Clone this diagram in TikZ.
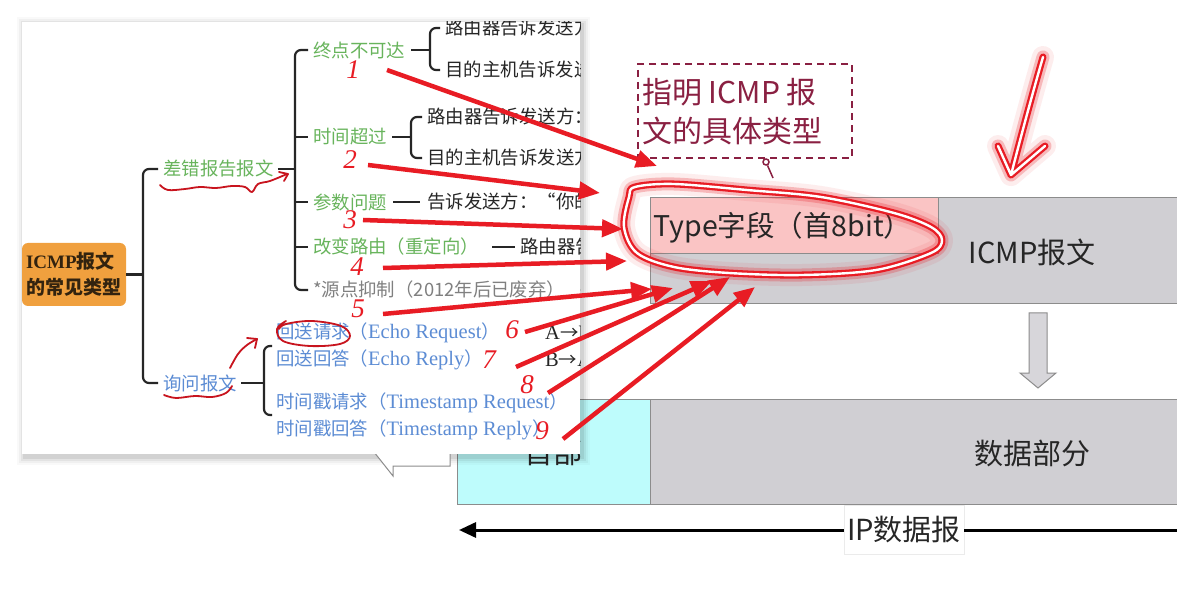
\documentclass[tikz,border=0pt]{standalone}
\usepackage{fontspec}
\setmainfont{Noto Sans CJK SC}
\newfontfamily\lser{Liberation Serif}
\usetikzlibrary{arrows.meta}
\definecolor{mmgreen}{RGB}{104,180,92}
\definecolor{mmblue}{RGB}{92,140,212}
\definecolor{mmgray}{RGB}{128,128,128}
\definecolor{mmblack}{RGB}{38,38,38}
\definecolor{mmorange}{RGB}{240,160,62}
\definecolor{rootink}{RGB}{50,35,15}
\definecolor{annred}{RGB}{232,28,36}
\definecolor{scribred}{RGB}{200,20,30}
\definecolor{hintred}{RGB}{138,32,66}
\definecolor{boxgray}{RGB}{208,207,211}
\definecolor{edgegray}{RGB}{140,140,140}
\definecolor{pinkfill}{RGB}{250,196,196}
\definecolor{cyanfill}{RGB}{190,252,252}
\begin{document}
\begin{tikzpicture}[x=1pt,y=-1pt,
  box/.style={draw=edgegray,line width=1pt,anchor=north west,inner sep=0pt},
  big/.style={inner sep=0pt,text=black!85,font=\fontsize{29}{34}\selectfont},
  tree/.style={draw=mmblack,line width=2.2pt,rounded corners=6pt},
  mm/.style={anchor=west,inner sep=0pt,font=\fontsize{18.4}{21}\selectfont},
  gtxt/.style={mm,text=mmgreen},
  btxt/.style={mm,text=mmblue},
  ktxt/.style={mm,text=mmblack},
  redarr/.style={draw=annred,line width=4.5pt,-{Triangle[length=21pt,width=17pt]}},
  num/.style={text=annred,inner sep=0pt,font=\lser\itshape\fontsize{27}{27}\selectfont},
  scrib/.style={draw=scribred,line width=1.8pt,line cap=round,line join=round},
  glow/.style={draw=annred,line width=7pt,line cap=round,line join=round,
     preaction={draw=annred,opacity=.08,line width=22pt,line cap=round,line join=round},
     preaction={draw=annred,opacity=.25,line width=13pt,line cap=round,line join=round},
     postaction={draw=white,line width=2.4pt,line cap=round,line join=round}}
]
\useasboundingbox (0,0) rectangle (1177,601);
\fill[white] (0,0) rectangle (1177,601);
\begin{scope}
\clip (0,0) rectangle (1177,601);
% ---------- IP datagram diagram ----------
\node[box,fill=boxgray,minimum width=540pt,minimum height=106pt] (icmp) at (650,197) {};
\node[box,fill=pinkfill,minimum width=288pt,minimum height=56pt] (type) at (650,197) {};
\node[big,font=\fontsize{28.5}{30}\selectfont] (typelab) at (783,228) {Type字段（首8bit）};
\node[big] (icmplab) at (1032,252) {ICMP报文};
\node[box,fill=cyanfill,minimum width=193pt,minimum height=105pt] (hdr) at (457,399) {};
\node[box,fill=boxgray,minimum width=540pt,minimum height=105pt] (data) at (650,399) {};
\node[big] (hdrlab) at (553,452) {首部};
\node[big] (datalab) at (1032,453) {数据部分};
\draw[fill=boxgray!85,draw=edgegray,line width=1pt]
  (1029,313) -- (1047,313) -- (1047,373) -- (1056,373) -- (1038,388) -- (1020,373) -- (1029,373) -- cycle;
\coordinate (ipL) at (459,530);
\coordinate (ipR) at (1185,530);
\node[big,fill=white,draw=black!8,inner xsep=3pt,minimum height=49pt] (iplab) at (904,530) {IP数据报};
\draw[line width=3pt,-{Triangle[length=17pt,width=15pt]}] (iplab.west) -- (ipL);
\draw[line width=3pt] (iplab.east) -- (ipR);
% ---------- hint box ----------
\node[box,draw=hintred,line width=2pt,dash pattern=on 7pt off 5pt,minimum width=214pt,minimum height=94pt] (hint) at (637,63) {};
\node[anchor=west,inner sep=0pt,align=left,text=hintred,font=\fontsize{30}{39}\selectfont] (hintlab) at (642,112) {指明 ICMP 报\\文的具体类型};
\node[draw=hintred,line width=1.5pt,circle,inner sep=0pt,minimum size=6pt] (pin) at (766,162) {};
\coordinate (pinend) at (773,178);
\draw[hintred,line width=1.5pt] (pin) -- (pinend);
% ---------- glowing hand annotations ----------
\draw[glow] plot[smooth cycle,tension=.55] coordinates {(635,187) (674,184) (747,190) (821,197) (894,213) (931,227) (942,240) (931,253) (876,270) (802,275) (729,273) (674,267) (637,253) (624,227) (629,197)};
\draw[glow] (1043,57) .. controls (1032,95) and (1020,140) .. (1011,175) (998,146) -- (1011,175) -- (1045,146);
% ---------- mind-map panel ----------
\foreach \s/\o in {8/.025,6/.035,4/.05,2/.07}{
  \fill[black,opacity=\o] (22-\s+3,22-\s+3) rectangle (580+\s+2,454+\s+3);
}
\draw[fill=white,draw=black!45,line width=1pt] (374,452) -- (393,476) -- (393,466) -- (450,466) -- (450,452);
\node[anchor=north west,fill=white,inner sep=0pt,minimum width=558pt,minimum height=432pt] (panel) at (22,22) {};
\begin{scope}
\clip (22,22) rectangle (580,454);
\node[fill=mmorange,rounded corners=6pt,minimum width=104pt,minimum height=63pt,text width=96pt,inner xsep=4pt,align=left,text=rootink,font=\bfseries\fontsize{19}{26}\selectfont] (root) at (74,274.5) {{\lser\bfseries ICMP}报文\\的常见类型};
\node[gtxt] (err) at (163,169) {差错报告报文};
\node[btxt] (qry) at (163,383) {询问报文};
\draw[tree] (root.east) -- (143,274.5);
\draw[tree] ([xshift=-5pt]err.west) -- (143,169) -- (143,383) -- ([xshift=-5pt]qry.west);
% error branch
\node[gtxt] (n1) at (313,50) {终点不可达};
\node[gtxt] (n2) at (313,137) {时间超过};
\node[gtxt] (n3) at (313,202) {参数问题};
\node[gtxt] (n4) at (313,247) {改变路由（重定向）};
\node[mm,text=mmgray] (n5) at (313,290) {*源点抑制（2012年后已废弃）};
\draw[tree] ([xshift=4pt]err.east) -- (295,169);
\draw[tree] ([xshift=-5pt]n1.west) -- (295,50) -- (295,290) -- ([xshift=-5pt]n5.west);
\draw[tree] (295,137) -- ([xshift=-5pt]n2.west);
\draw[tree] (295,202) -- ([xshift=-5pt]n3.west);
\draw[tree] (295,247) -- ([xshift=-5pt]n4.west);
\node[ktxt] (c11) at (445,28) {路由器告诉发送方};
\node[ktxt] (c12) at (445,70) {目的主机告诉发送方};
\draw[tree] ([xshift=6pt]n1.east) -- (430,50);
\draw[tree] ([xshift=-5pt]c11.west) -- (430,28) -- (430,70) -- ([xshift=-5pt]c12.west);
\node[ktxt] (c21) at (427,117) {路由器告诉发送方：};
\node[ktxt] (c22) at (427,158) {目的主机告诉发送方};
\draw[tree] ([xshift=5pt]n2.east) -- (411,137);
\draw[tree] ([xshift=-5pt]c21.west) -- (411,117) -- (411,158) -- ([xshift=-5pt]c22.west);
\node[ktxt] (c3) at (427,202) {告诉发送方：“你的};
\draw[tree] ([xshift=6pt]n3.east) -- ([xshift=-7pt]c3.west);
\node[ktxt] (c4) at (520,247) {路由器告诉};
\draw[tree] ([xshift=13pt]n4.east) -- ([xshift=-5pt]c4.west);
\coordinate (c5) at (595,290);
\draw[tree] ([xshift=15pt]n5.east) -- (c5);
% query branch
\node[btxt] (q1) at (276,333) {回送请求（{\lser\fontsize{20.5}{21}\selectfont Echo Request}）};
\node[btxt] (q2) at (276,360) {回送回答（{\lser\fontsize{20.5}{21}\selectfont Echo Reply}）};
\node[btxt] (q3) at (276,403) {时间戳请求（{\lser\fontsize{20.5}{21}\selectfont Timestamp Request}）};
\node[btxt] (q4) at (276,430) {时间戳回答（{\lser\fontsize{20.5}{21}\selectfont Timestamp Reply}）};
\node[ktxt] (ab) at (545,333) {{\lser\fontsize{20.5}{21}\selectfont A}→{\lser\fontsize{20.5}{21}\selectfont B}};
\node[ktxt] (ba) at (545,360) {{\lser\fontsize{20.5}{21}\selectfont B}→{\lser\fontsize{20.5}{21}\selectfont A}};
\coordinate (qtop) at (272,346);
\coordinate (qbot) at (272,415);
\draw[tree] ([xshift=4pt]qry.east) -- (264,383);
\draw[tree] (qtop) -- (264,346) -- (264,415) -- (qbot);
\end{scope}
% ---------- red hand annotations ----------
\draw[scrib] plot[smooth,tension=.6] coordinates {(160,185) (168,190) (185,189) (200,187) (216,188) (232,186) (245,187) (252,192) (258,184) (270,181) (287,174)};
\draw[scrib] (279,172) -- (288,174) -- (284,181);
\draw[scrib] plot[smooth,tension=.6] coordinates {(164,395) (176,398) (195,396) (212,397) (226,393) (232,386)};
\draw[scrib] plot[smooth,tension=.6] coordinates {(230,368) (238,354) (247,345) (257,339)};
\draw[scrib] (247,338) -- (257,339) -- (255,348);
\draw[scrib] plot[smooth,tension=.6] coordinates {(286,321) (277,329) (283,341) (310,346) (340,344) (350,336) (341,326) (312,321) (286,324) (279,329)};
\foreach \n/\px/\py in {1/353/70,2/350/160,3/350/220,4/357/267,5/358/309,6/512/330,7/489/360,8/527/385,9/542/431}{
  \node[num] (num\n) at (\px,\py) {\n};
}
\foreach \i/\tx/\ty/\hx/\hy in {1/387/70/657/166,2/368/165/600/193,3/363/220/623/229,4/383/268/627/261,5/383/314/652/289,6/525/332/673/288,7/516/367/712/281,8/548/393/730/277,9/563/439/755/287}{
  \coordinate (t\i) at (\tx,\ty);
  \coordinate (h\i) at (\hx,\hy);
  \draw[redarr] (t\i) -- (h\i);
}
\end{scope}
\end{tikzpicture}
\end{document}
